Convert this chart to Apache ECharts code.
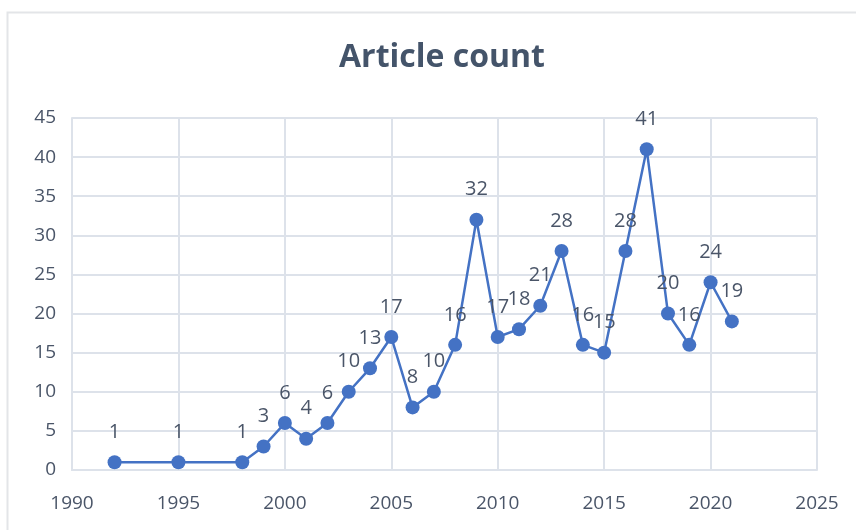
<!DOCTYPE html>
<html>
<head>
<meta charset="utf-8">
<script src="https://cdn.jsdelivr.net/npm/echarts@6/dist/echarts.min.js"></script>
<style>
  body { margin: 0; background: #fff; }
  #chart { width: 856px; height: 530px; }
</style>
</head>
<body>
<div id="chart"></div>
<script>
// article counts per year
var years = [1992, 1995, 1998, 1999, 2000, 2001, 2002, 2003, 2004, 2005, 2006, 2007, 2008,
             2009, 2010, 2011, 2012, 2013, 2014, 2015, 2016, 2017, 2018, 2019, 2020, 2021];
var counts = [1, 1, 1, 3, 6, 4, 6, 10, 13, 17, 8, 10, 16,
              32, 17, 18, 21, 28, 16, 15, 28, 41, 20, 16, 24, 19];

var textColor = '#4a5568';
var gridColor = '#dde2ea';

var chart = echarts.init(document.getElementById('chart'));

var points = [];
for (var i = 0; i < years.length; i++) {
    points.push([years[i], counts[i]]);
}

chart.setOption({
    animation: false,
    graphic: [{
        type: 'rect',
        left: 5, top: 10,
        shape: { width: 900, height: 600 },
        style: { fill: 'none', stroke: '#e3e5e8', lineWidth: 2 }
    }],
    title: {
        text: 'Article count',
        left: 437,
        top: 37,
        textAlign: 'center',
        textStyle: {
            color: '#44546a',
            fontFamily: 'Open Sans',
            fontWeight: 'bold',
            fontSize: 32
        }
    },
    grid: { left: 72, right: 39, top: 118, bottom: 60 },
    xAxis: {
        type: 'value',
        min: 1990, max: 2025, interval: 5,
        axisLine: { show: true, lineStyle: { color: gridColor, width: 2 } },
        axisTick: { show: false },
        splitLine: { show: true, lineStyle: { color: gridColor, width: 2 } },
        axisLabel: {
            color: textColor, fontSize: 19, margin: 24, fontFamily: 'Open Sans',
            formatter: function (v) { return String(v); }
        }
    },
    yAxis: {
        type: 'value',
        min: 0, max: 45, interval: 5,
        axisLine: { show: true, lineStyle: { color: gridColor, width: 2 } },
        axisTick: { show: false },
        splitLine: { show: true, lineStyle: { color: gridColor, width: 2 } },
        axisLabel: { color: textColor, fontSize: 19, margin: 16, fontFamily: 'Open Sans' }
    },
    series: [{
        type: 'line',
        data: points,
        symbol: 'circle',
        symbolSize: 14,
        itemStyle: { color: '#4472c4' },
        lineStyle: { color: '#4472c4', width: 2.5 },
        label: {
            show: true,
            position: 'top',
            distance: 13,
            color: textColor,
            fontSize: 20,
            fontFamily: 'Open Sans',
            formatter: function (p) { return p.value[1]; }
        }
    }]
});
</script>
</body>
</html>
